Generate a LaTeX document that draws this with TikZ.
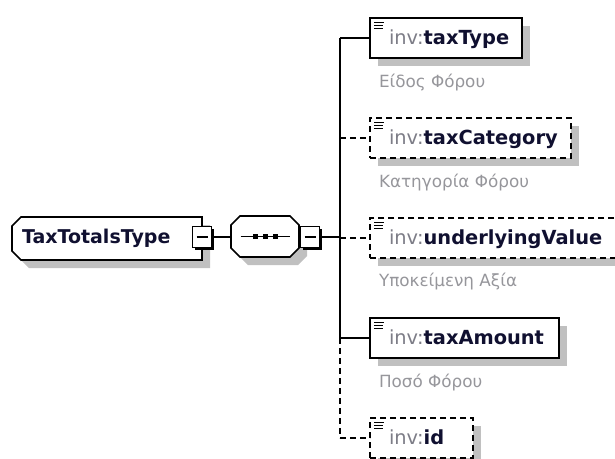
\documentclass[tikz,border=0pt]{standalone}
\usepackage{fontspec}
\setmainfont{DejaVu Sans}
\usetikzlibrary{shadows,backgrounds}
\definecolor{invgray}{RGB}{125,125,135}
\definecolor{nmcol}{RGB}{16,16,48}
\definecolor{lblgray}{RGB}{150,150,155}
\definecolor{shd}{RGB}{192,192,192}
\newcommand\xel[2]{\makebox[#1pt][l]{\textcolor{invgray}{inv:}\textbf{#2}}}
\begin{document}
\begin{tikzpicture}[x=1pt,y=-1pt,line width=2pt,
  elem/.style={draw, fill=white, anchor=north west, outer sep=0pt, line width=2pt,
    minimum height=40pt, inner xsep=19pt, inner ysep=0pt,
    text height=12.8pt, text depth=0pt, text=nmcol,
    font=\fontsize{19.4}{21}\selectfont,
    drop shadow={shadow xshift=8pt, shadow yshift=-8pt, fill=shd, opacity=1},
    path picture={
      \draw[line width=1.2pt,black,solid] ([shift={(4,4.7)}]path picture bounding box.north west) -- ++(10,0)
        ([shift={(4,7.5)}]path picture bounding box.north west) -- ++(9,0)
        ([shift={(4,10.2)}]path picture bounding box.north west) -- ++(9,0);}},
  opt/.style={elem, dash pattern=on 6pt off 4pt},
  lbl/.style={anchor=base west, inner sep=0pt, text=lblgray, font=\fontsize{16.8}{18}\selectfont},
  minus/.style={draw, fill=white, line width=1.2pt, anchor=north west, outer sep=0pt,
    minimum width=19pt, minimum height=21pt, inner sep=0pt,
    drop shadow={shadow xshift=2pt, shadow yshift=-2pt, fill=black, opacity=1},
    path picture={\draw[line width=1.2pt] ([xshift=4pt]path picture bounding box.west) -- ([xshift=-4pt]path picture bounding box.east);}},
  conn/.style={line width=2pt},
  dconn/.style={line width=2pt, dash pattern=on 6pt off 4pt},
  frame/.style={draw, fill=white, line width=1.6pt},
  shadowc/.style={fill=shd, transform canvas={shift={(8,8)}}}
]
\useasboundingbox (0,0) rectangle (615,458);

% type node
\node[anchor=north west, outer sep=0pt, minimum height=43pt, inner xsep=10pt, inner ysep=0pt,
  text height=9.8pt, text depth=0pt, text=nmcol, font=\bfseries\fontsize{19}{21}\selectfont]
  (tt) at (12,217) {\makebox[170pt][l]{TaxTotalsType}};
% sequence compositor
\node[anchor=north west, outer sep=0pt, minimum width=68pt, minimum height=41pt, inner sep=0pt]
  (seq) at (231,216) {};

\begin{scope}[on background layer]
  \path[shadowc] ([xshift=9pt]tt.north west) -- (tt.north east) -- (tt.south east)
    -- ([xshift=9pt]tt.south west) -- ([yshift=9pt]tt.south west) -- ([yshift=-9pt]tt.north west) -- cycle;
  \path[frame] ([xshift=9pt]tt.north west) -- (tt.north east) -- (tt.south east)
    -- ([xshift=9pt]tt.south west) -- ([yshift=9pt]tt.south west) -- ([yshift=-9pt]tt.north west) -- cycle;
  \path[shadowc] ([xshift=9pt]seq.north west) -- ([xshift=-9pt]seq.north east) -- ([yshift=-9pt]seq.north east)
    -- ([yshift=9pt]seq.south east) -- ([xshift=-9pt]seq.south east) -- ([xshift=9pt]seq.south west)
    -- ([yshift=9pt]seq.south west) -- ([yshift=-9pt]seq.north west) -- cycle;
  \path[frame] ([xshift=9pt]seq.north west) -- ([xshift=-9pt]seq.north east) -- ([yshift=-9pt]seq.north east)
    -- ([yshift=9pt]seq.south east) -- ([xshift=-9pt]seq.south east) -- ([xshift=9pt]seq.south west)
    -- ([yshift=9pt]seq.south west) -- ([yshift=-9pt]seq.north west) -- cycle;
\end{scope}

% sequence symbol
\draw[line width=1.5pt] ([xshift=-24.5pt]seq.center) -- ([xshift=24.5pt]seq.center);
\foreach \dx in {-10,0,10}{
  \fill ([xshift=\dx pt]seq.center) +(-2.5,-2.5) rectangle +(2.5,2.5);
}

% minus boxes
\node[minus] (ttm) at (192.5,226.5) {};
\node[minus] (seqm) at (300.5,226.5) {};

% children
\node[elem] (c1) at (370,18) {\xel{114}{taxType}};
\node[opt]  (c2) at (370,118) {\xel{163}{taxCategory}};
\node[opt]  (c3) at (370,218) {\xel{214}{underlyingValue}};
\node[elem] (c4) at (370,318) {\xel{151}{taxAmount}};
\node[opt]  (c5) at (370,418) {\xel{65}{id}};

\node[lbl] (l1) at (378,87) {Είδος Φόρου};
\node[lbl] (l2) at (378,187) {Κατηγορία Φόρου};
\node[lbl] (l3) at (378,286) {Υποκείμενη Αξία};
\node[lbl] (l4) at (378,387) {Ποσό Φόρου};

% connectors
\coordinate (bus) at (340,0);
\draw[conn] (ttm.east) -- (ttm.east -| seq.west);
\draw[conn] (seqm.east) -- (seqm.east -| bus);
\draw[conn] (c1.west -| bus) -- (c4.west -| bus);
\draw[dconn] (c4.west -| bus) -- (c5.west -| bus);
\draw[conn] (c1.west -| bus) -- (c1.west);
\draw[dconn] (c2.west -| bus) -- (c2.west);
\draw[dconn] (c3.west -| bus) -- (c3.west);
\draw[conn] (c4.west -| bus) -- (c4.west);
\draw[dconn] (c5.west -| bus) -- (c5.west);
\end{tikzpicture}
\end{document}
